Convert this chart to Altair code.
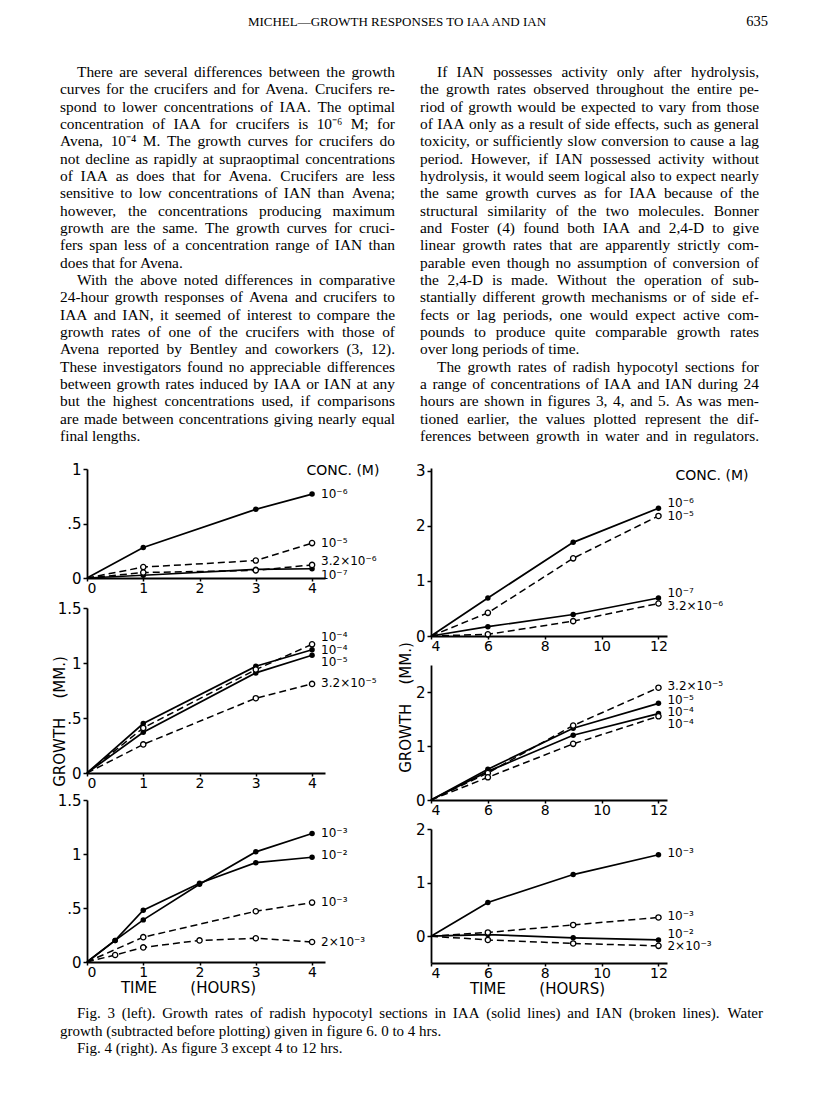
import altair as alt
import pandas as pd

# ---------------- page text ----------------
header_title = "MICHEL—GROWTH RESPONSES TO IAA AND IAN"
page_number = "635"

left_lines = [
    "There are several differences between the growth",
    "curves for the crucifers and for Avena. Crucifers re-",
    "spond to lower concentrations of IAA. The optimal",
    "concentration of IAA for crucifers is 10⁻⁶ M; for",
    "Avena, 10⁻⁴ M. The growth curves for crucifers do",
    "not decline as rapidly at supraoptimal concentrations",
    "of IAA as does that for Avena. Crucifers are less",
    "sensitive to low concentrations of IAN than Avena;",
    "however, the concentrations producing maximum",
    "growth are the same. The growth curves for cruci-",
    "fers span less of a concentration range of IAN than",
    "does that for Avena.",
    "With the above noted differences in comparative",
    "24-hour growth responses of Avena and crucifers to",
    "IAA and IAN, it seemed of interest to compare the",
    "growth rates of one of the crucifers with those of",
    "Avena reported by Bentley and coworkers (3, 12).",
    "These investigators found no appreciable differences",
    "between growth rates induced by IAA or IAN at any",
    "but the highest concentrations used, if comparisons",
    "are made between concentrations giving nearly equal",
    "final lengths.",
]
left_indented = [0, 12]
left_para_ends = [11, 21]

right_lines = [
    "If IAN possesses activity only after hydrolysis,",
    "the growth rates observed throughout the entire pe-",
    "riod of growth would be expected to vary from those",
    "of IAA only as a result of side effects, such as general",
    "toxicity, or sufficiently slow conversion to cause a lag",
    "period. However, if IAN possessed activity without",
    "hydrolysis, it would seem logical also to expect nearly",
    "the same growth curves as for IAA because of the",
    "structural similarity of the two molecules. Bonner",
    "and Foster (4) found both IAA and 2,4-D to give",
    "linear growth rates that are apparently strictly com-",
    "parable even though no assumption of conversion of",
    "the 2,4-D is made. Without the operation of sub-",
    "stantially different growth mechanisms or of side ef-",
    "fects or lag periods, one would expect active com-",
    "pounds to produce quite comparable growth rates",
    "over long periods of time.",
    "The growth rates of radish hypocotyl sections for",
    "a range of concentrations of IAA and IAN during 24",
    "hours are shown in figures 3, 4, and 5. As was men-",
    "tioned earlier, the values plotted represent the dif-",
    "ferences between growth in water and in regulators.",
]
right_indented = [0, 17]
right_para_ends = [16]

caption_lines = [
    "Fig. 3 (left). Growth rates of radish hypocotyl sections in IAA (solid lines) and IAN (broken lines). Water",
    "growth (subtracted before plotting) given in figure 6. 0 to 4 hrs.",
    "Fig. 4 (right). As figure 3 except 4 to 12 hrs.",
]
caption_indented = [0, 2]
caption_para_ends = [1, 2]

# ---------------- chart data ----------------
# Fig. 3, 0-4 hrs
p1_hours = [0, 1, 3, 4]
p1_iaa_1e6 = [0, 0.28, 0.63, 0.77]
p1_ian_1e5 = [0, 0.10, 0.16, 0.32]
p1_ian_32e6 = [0, 0.05, 0.07, 0.12]
p1_iaa_1e7 = [0, 0.025, 0.08, 0.085]

p2_hours = [0, 1, 3, 4]
p2_ian_1e4 = [0, 0.41, 0.94, 1.17]
p2_iaa_1e4 = [0, 0.45, 0.97, 1.12]
p2_iaa_1e5 = [0, 0.37, 0.91, 1.07]
p2_ian_32e5 = [0, 0.26, 0.68, 0.81]

p3_hours = [0, 0.5, 1, 2, 3, 4]
p3_iaa_1e3 = [0, 0.20, 0.39, 0.72, 1.02, 1.19]
p3_iaa_1e2 = [0, 0.20, 0.48, 0.73, 0.92, 0.97]
p3_ian_1e3_hours = [0, 1, 3, 4]
p3_ian_1e3 = [0, 0.23, 0.47, 0.55]
p3_ian_2e3 = [0, 0.065, 0.135, 0.20, 0.22, 0.185]

# Fig. 4, 4-12 hrs
p4_hours = [4, 6, 9, 12]
p4_iaa_1e6 = [0, 0.69, 1.70, 2.32]
p4_ian_1e5 = [0, 0.42, 1.41, 2.18]
p4_iaa_1e7 = [0, 0.17, 0.39, 0.69]
p4_ian_32e6 = [0, 0.03, 0.27, 0.59]

p5_hours = [4, 6, 9, 12]
p5_ian_32e5 = [0, 0.50, 1.38, 2.08]
p5_iaa_1e5 = [0, 0.57, 1.33, 1.79]
p5_iaa_1e4 = [0, 0.53, 1.20, 1.60]
p5_ian_1e4 = [0, 0.42, 1.04, 1.55]

p6_hours = [4, 6, 9, 12]
p6_iaa_1e3 = [0, 0.63, 1.15, 1.52]
p6_ian_1e3 = [0, 0.07, 0.21, 0.35]
p6_iaa_1e2 = [0, 0.03, -0.03, -0.07]
p6_ian_2e3 = [0, -0.07, -0.135, -0.18]

# series labels and their heights (data units)
p1_labels = ["10⁻⁶", "10⁻⁵", "3.2×10⁻⁶", "10⁻⁷"]
p1_label_y = [0.77, 0.32, 0.16, 0.03]
p2_labels = ["10⁻⁴", "10⁻⁴", "10⁻⁵", "3.2×10⁻⁵"]
p2_label_y = [1.24, 1.12, 1.01, 0.82]
p3_labels = ["10⁻³", "10⁻²", "10⁻³", "2×10⁻³"]
p3_label_y = [1.19, 0.99, 0.56, 0.185]
p4_labels = ["10⁻⁶", "10⁻⁵", "10⁻⁷", "3.2×10⁻⁶"]
p4_label_y = [2.42, 2.18, 0.78, 0.55]
p5_labels = ["3.2×10⁻⁵", "10⁻⁵", "10⁻⁴", "10⁻⁴"]
p5_label_y = [2.12, 1.85, 1.63, 1.41]
p6_labels = ["10⁻³", "10⁻³", "10⁻²", "2×10⁻³"]
p6_label_y = [1.55, 0.37, 0.04, -0.19]

conc_title = "CONC. (M)"

# ---------------- build tables ----------------
rows = []
def add(panel, sid, agent, xs, ys):
    for i, (x, y) in enumerate(zip(xs, ys)):
        rows.append({"panel": panel, "series": f"{panel}-{sid}", "agent": agent,
                     "hour": x, "growth": y, "first": i == 0})

add(1, "a", "IAA", p1_hours, p1_iaa_1e6)
add(1, "b", "IAN", p1_hours, p1_ian_1e5)
add(1, "c", "IAN", p1_hours, p1_ian_32e6)
add(1, "d", "IAA", p1_hours, p1_iaa_1e7)
add(2, "a", "IAN", p2_hours, p2_ian_1e4)
add(2, "b", "IAA", p2_hours, p2_iaa_1e4)
add(2, "c", "IAA", p2_hours, p2_iaa_1e5)
add(2, "d", "IAN", p2_hours, p2_ian_32e5)
add(3, "a", "IAA", p3_hours, p3_iaa_1e3)
add(3, "b", "IAA", p3_hours, p3_iaa_1e2)
add(3, "c", "IAN", p3_ian_1e3_hours, p3_ian_1e3)
add(3, "d", "IAN", p3_hours, p3_ian_2e3)
add(4, "a", "IAA", p4_hours, p4_iaa_1e6)
add(4, "b", "IAN", p4_hours, p4_ian_1e5)
add(4, "c", "IAA", p4_hours, p4_iaa_1e7)
add(4, "d", "IAN", p4_hours, p4_ian_32e6)
add(5, "a", "IAN", p5_hours, p5_ian_32e5)
add(5, "b", "IAA", p5_hours, p5_iaa_1e5)
add(5, "c", "IAA", p5_hours, p5_iaa_1e4)
add(5, "d", "IAN", p5_hours, p5_ian_1e4)
add(6, "a", "IAA", p6_hours, p6_iaa_1e3)
add(6, "b", "IAN", p6_hours, p6_ian_1e3)
add(6, "c", "IAA", p6_hours, p6_iaa_1e2)
add(6, "d", "IAN", p6_hours, p6_ian_2e3)
df = pd.DataFrame(rows)

lab_rows = []
for panel, texts, ys, xend in [
    (1, p1_labels, p1_label_y, p1_hours[-1]),
    (2, p2_labels, p2_label_y, p2_hours[-1]),
    (3, p3_labels, p3_label_y, p3_hours[-1]),
    (4, p4_labels, p4_label_y, p4_hours[-1]),
    (5, p5_labels, p5_label_y, p5_hours[-1]),
    (6, p6_labels, p6_label_y, p6_hours[-1]),
]:
    for t, y in zip(texts, ys):
        lab_rows.append({"panel": panel, "text": t, "hour": xend, "growth": y})
labels_df = pd.DataFrame(lab_rows)

LABEL_FONT = "DejaVu Sans"
SERIF = "Liberation Serif"
W, H = 800, 1062


def panel(pid, xdom, xrange, ydom, yrange, xticks, yticks, xtitle="", ytitle="",
          title_x=None, title_y=None, ytitle_x=None, conc=None):
    xaxis = dict(values=xticks, title=xtitle, orient="bottom", offset=yrange[0] - H,
                 labelExpr="'' + datum.value", tickSize=3, labelPadding=0,
                 labelFontSize=14, titlePadding=1)
    if title_x is not None:
        xaxis["titleX"] = title_x
    yaxis = dict(values=yticks, title=ytitle, orient="left", offset=-xrange[0],
                 labelExpr="datum.value == 0.5 ? '.5' : '' + datum.value")
    if title_y is not None:
        yaxis["titleY"] = title_y
        yaxis["titleX"] = ytitle_x
        yaxis["titleBaseline"] = "bottom"
    x = alt.X("hour:Q", scale=alt.Scale(domain=xdom, range=xrange, nice=False, zero=False),
              axis=alt.Axis(**xaxis))
    y = alt.Y("growth:Q", scale=alt.Scale(domain=ydom, range=yrange, nice=False, zero=False),
              axis=alt.Axis(**yaxis))
    base = alt.Chart(df).transform_filter(alt.datum.panel == pid)
    solid = base.transform_filter(alt.datum.agent == "IAA").mark_line(
        color="black", strokeWidth=1.7).encode(x=x, y=y, detail="series:N")
    dashed = base.transform_filter(alt.datum.agent == "IAN").mark_line(
        color="black", strokeWidth=1.5, strokeDash=[7, 4]).encode(x=x, y=y, detail="series:N")
    pts_iaa = base.transform_filter((alt.datum.agent == "IAA") & (alt.datum.first == False)).mark_circle(
        color="black", size=30, opacity=1).encode(x=x, y=y)
    pts_ian = base.transform_filter((alt.datum.agent == "IAN") & (alt.datum.first == False)).mark_point(
        shape="circle", filled=False, fill="white", fillOpacity=1, stroke="black",
        strokeWidth=1.3, size=28, opacity=1).encode(x=x, y=y)
    labs = alt.Chart(labels_df).transform_filter(alt.datum.panel == pid).mark_text(
        align="left", baseline="middle", dx=9, font=LABEL_FONT, fontSize=12,
        color="black").encode(x=x, y=y, text="text:N")
    layers = [solid, dashed, pts_iaa, pts_ian, labs]
    if conc is not None:
        cdf = pd.DataFrame({"hour": [conc[0]], "growth": [conc[1]], "text": [conc_title]})
        layers.append(alt.Chart(cdf).mark_text(
            align="left", baseline="middle", font=LABEL_FONT, fontSize=14,
            color="black").encode(x=x, y=y, text="text:N"))
    return alt.layer(*layers)


LX = [79, 317]    # left column plot x-range (chart px)
RX = [423, 659]   # right column plot x-range
TIME_T = "TIME\u00a0\u00a0\u00a0\u00a0\u00a0\u00a0\u00a0(HOURS)"
GROW_T = "GROWTH\u00a0\u00a0\u00a0\u00a0(MM.)"

p1 = panel(1, [0, 4.23], LX, [0, 1], [570, 461], [0, 1, 2, 3, 4], [0, 0.5, 1],
           conc=(3.9, 0.98))
p2 = panel(2, [0, 4.23], LX, [0, 1.5], [765, 600], [0, 1, 2, 3, 4], [0, 0.5, 1, 1.5],
           ytitle=GROW_T, title_y=713, ytitle_x=-20)
p3 = panel(3, [0, 4.23], LX, [0, 1.5], [954, 792], [0, 1, 2, 3, 4], [0, 0.5, 1, 1.5],
           xtitle=TIME_T, title_x=180)
p4 = panel(4, [4, 12.3], RX, [0, 3.05], [628, 460], [4, 6, 8, 10, 12], [0, 1, 2, 3],
           conc=(12.6, 2.9))
p5 = panel(5, [4, 12.3], RX, [0, 2.5], [792, 657], [4, 6, 8, 10, 12], [0, 1, 2],
           ytitle=GROW_T, title_y=699, ytitle_x=-18)
p6 = panel(6, [4, 12.3], RX, [-0.5, 2], [955, 821], [4, 6, 8, 10, 12], [0, 1, 2],
           xtitle=TIME_T, title_x=529)

# ---------------- justified text ----------------
TIMES_W = {
    " ": 250, "!": 333, "(": 333, ")": 333, ",": 250, "-": 333, ".": 250, ":": 278,
    ";": 278, "—": 1000, "×": 564, "⁻": 330, "⁴": 330, "⁶": 330,
    "A": 722, "B": 667, "C": 667, "D": 722, "E": 611, "F": 556, "G": 722, "H": 722,
    "I": 333, "J": 389, "K": 722, "L": 611, "M": 889, "N": 722, "O": 722, "P": 556,
    "Q": 722, "R": 667, "S": 556, "T": 611, "U": 722, "V": 722, "W": 944, "X": 722,
    "Y": 722, "Z": 611, "a": 444, "b": 500, "c": 444, "d": 500, "e": 444, "f": 333,
    "g": 500, "h": 500, "i": 278, "j": 278, "k": 500, "l": 278, "m": 778, "n": 500,
    "o": 500, "p": 500, "q": 500, "r": 333, "s": 389, "t": 278, "u": 500, "v": 500,
    "w": 722, "x": 500, "y": 500, "z": 444,
}
for d in "0123456789":
    TIMES_W[d] = 500


def tw(s, size):
    return sum(TIMES_W.get(c, 500) for c in s) / 1000.0 * size


def justify(lines, x_left, x_right, y0, lh, indents, ends, size, block):
    out = []
    for i, line in enumerate(lines):
        xl = x_left + (17 if i in indents else 0)
        y = y0 + i * lh
        words = line.split(" ")
        if i in ends or len(words) == 1:
            out.append({"text": line, "px": xl, "py": y, "anchor": "L", "block": block})
            continue
        wsum = sum(tw(w, size) for w in words)
        gap = (x_right - xl - wsum) / (len(words) - 1)
        x = xl
        for j, w in enumerate(words):
            if j == len(words) - 1:
                out.append({"text": w, "px": x_right, "py": y, "anchor": "R", "block": block})
            else:
                out.append({"text": w, "px": x, "py": y, "anchor": "L", "block": block})
            x += tw(w, size) + gap
    return out

BODY_SIZE = 15.4
CAP_SIZE = 15
text_rows = []
text_rows += justify(left_lines, 52, 387, 64, 17.33, left_indented, left_para_ends, BODY_SIZE, "body")
text_rows += justify(right_lines, 412, 751, 64, 17.33, right_indented, right_para_ends, BODY_SIZE, "body")
text_rows += justify(caption_lines, 52, 755, 1005, 17.5, caption_indented, caption_para_ends, CAP_SIZE, "cap")
text_df = pd.DataFrame(text_rows)

px_enc = alt.X("px:Q", scale=None, axis=None)
py_enc = alt.Y("py:Q", scale=None, axis=None)

def text_layer(block, anchor, size):
    return alt.Chart(text_df).transform_filter(
        (alt.datum.block == block) & (alt.datum.anchor == anchor)
    ).mark_text(align="left" if anchor == "L" else "right", baseline="middle",
                font=SERIF, fontSize=size, color="black").encode(
        x=px_enc, y=py_enc, text="text:N")

head = alt.Chart(pd.DataFrame({"text": [header_title], "px": [389], "py": [14]})).mark_text(
    align="center", baseline="middle", font=SERIF, fontSize=13, color="black"
).encode(x=px_enc, y=py_enc, text="text:N")
pnum = alt.Chart(pd.DataFrame({"text": [page_number], "px": [760], "py": [14]})).mark_text(
    align="right", baseline="middle", font=SERIF, fontSize=14.5, color="black"
).encode(x=px_enc, y=py_enc, text="text:N")

chart = alt.layer(
    head, pnum,
    text_layer("body", "L", BODY_SIZE), text_layer("body", "R", BODY_SIZE),
    text_layer("cap", "L", CAP_SIZE), text_layer("cap", "R", CAP_SIZE),
    p1, p2, p3, p4, p5, p6,
).resolve_scale(x="independent", y="independent").resolve_axis(
    x="independent", y="independent"
).properties(width=W, height=H, padding=0).configure_view(
    stroke=None
).configure_axis(
    grid=False, domainColor="black", domainWidth=1.8, tickColor="black", tickWidth=1.5,
    tickSize=4, labelFont=LABEL_FONT, labelFontSize=15, labelColor="black", labelPadding=2,
    titleFont=LABEL_FONT, titleFontSize=15, titleFontWeight="normal", titleColor="black"
)

chart.save("out.html", embed_options={"renderer": "svg", "actions": False})
